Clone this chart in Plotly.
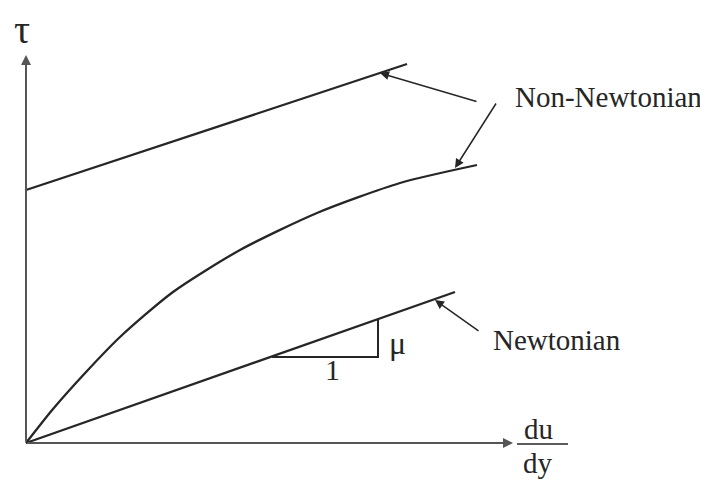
import plotly.graph_objects as go

# Schematic data (x = shear rate du/dy, y = shear stress tau), arbitrary units
bingham_x = [0, 381]
bingham_y = [253, 379]

curve_x = [0, 27, 61, 94, 147, 214, 291, 374, 451]
curve_y = [0, 34, 72, 106, 151, 193, 230, 260, 278]

newton_x = [0, 429]
newton_y = [0, 151]

# slope triangle on the Newtonian line
tri_x = [246, 352, 352]
tri_y = [86, 86, 125]

axis_x_end = 487
axis_y_end = 388

LINE = "#262626"
AXIS = "#555555"
FONT = "Liberation Serif, Times New Roman, serif"

fig = go.Figure()
for xs, ys in [(bingham_x, bingham_y), (curve_x, curve_y), (newton_x, newton_y)]:
    fig.add_trace(go.Scatter(x=xs, y=ys, mode="lines",
                             line=dict(color=LINE, width=2.3, shape="spline", smoothing=0.7),
                             hoverinfo="skip", showlegend=False))
fig.add_trace(go.Scatter(x=tri_x, y=tri_y, mode="lines", line=dict(color=LINE, width=2),
                         hoverinfo="skip", showlegend=False))
# fraction bar of du/dy
fig.add_trace(go.Scatter(x=[491, 542], y=[-1, -1], mode="lines", line=dict(color=LINE, width=1.5),
                         hoverinfo="skip", showlegend=False))

anns = []
def arrow(x, y, ax, ay, color=LINE, width=1.5, head=2, size=1.2):
    anns.append(dict(x=x, y=y, ax=ax, ay=ay, xref="x", yref="y", axref="x", ayref="y",
                     text="", showarrow=True, arrowhead=head, arrowsize=size,
                     arrowwidth=width, arrowcolor=color))

# axes
arrow(0, axis_y_end, 0, 0, color=AXIS, width=2, head=2, size=1.0)
arrow(axis_x_end, 0, 0, 0, color=AXIS, width=2, head=2, size=1.0)
# pointer arrows
arrow(354, 370, 452, 341)
arrow(429, 275, 471, 341)
arrow(409, 143, 454, 111)

def label(x, y, t, size=29):
    anns.append(dict(x=x, y=y, xref="x", yref="y", text=t, showarrow=False,
                     font=dict(family=FONT, size=size, color="#262626")))

label(582, 346, "Non-Newtonian")
label(531, 103, "Newtonian")
label(371, 100, "μ", 32)
label(306, 74, "1", 30)
label(-4, 414, "τ", 40)
label(512, 14, "du", 29)
label(512, -20, "dy", 29)

# the page body adds an 8px offset, so the figure is 8px smaller on each axis
fig.update_layout(
    width=700, height=471,
    margin=dict(l=0, r=0, t=0, b=0),
    paper_bgcolor="white", plot_bgcolor="white",
    xaxis=dict(range=[-18, 682], visible=False, fixedrange=True),
    yaxis=dict(range=[-36, 435], visible=False, fixedrange=True),
    annotations=anns,
    showlegend=False,
)
fig.write_html("out.html")
